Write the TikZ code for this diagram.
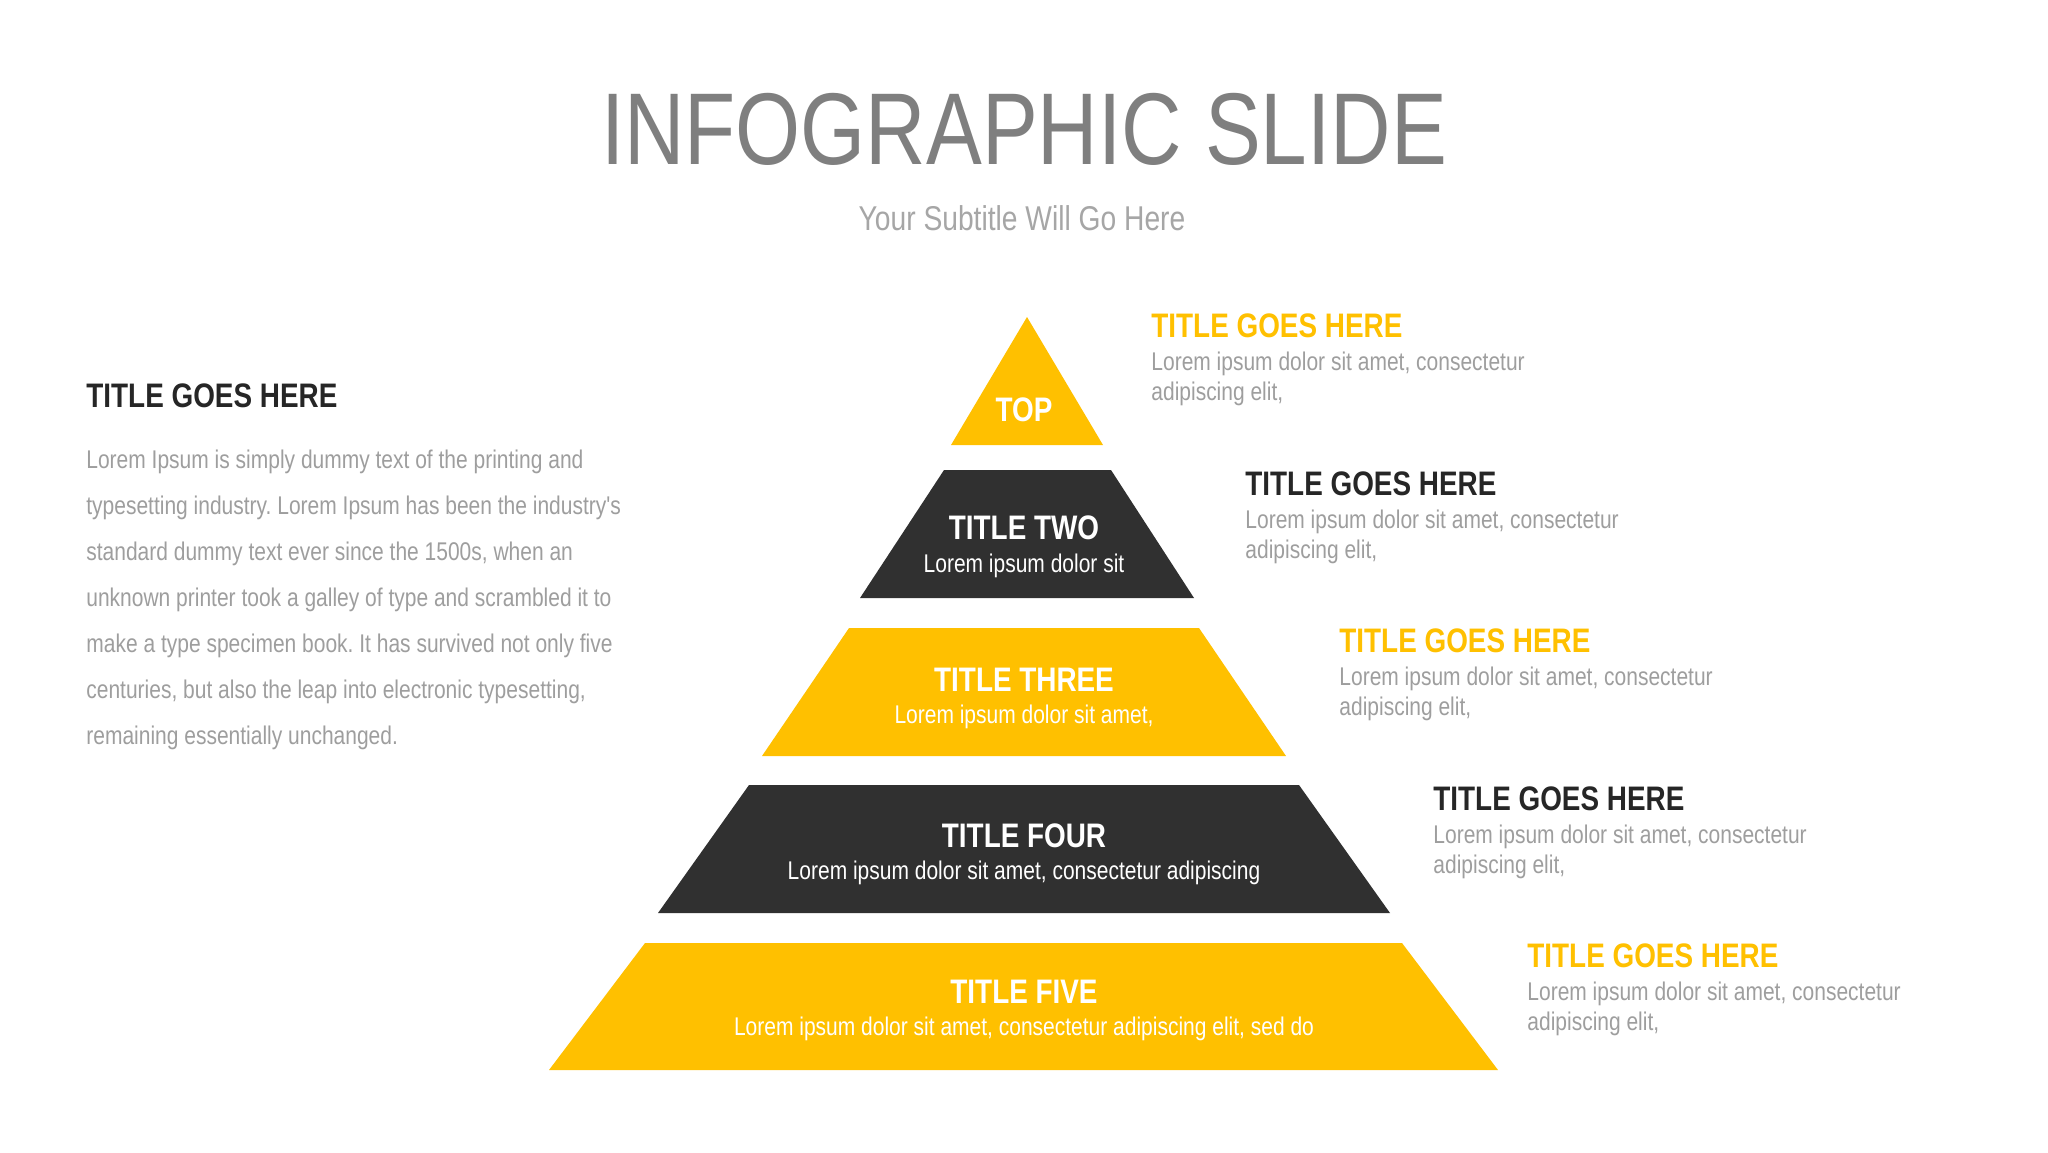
\documentclass[tikz,border=0pt]{standalone}
\usepackage{fontspec}
\setmainfont[FakeStretch=0.82]{Liberation Sans}
\newfontfamily\straightQuote[FakeStretch=0.82]{Liberation Sans}
\frenchspacing

\definecolor{gold}{HTML}{FFC000}
\definecolor{charcoal}{HTML}{303030}
\definecolor{headGray}{HTML}{7F7F7F}
\definecolor{subGray}{HTML}{A6A6A6}
\definecolor{bodyGray}{HTML}{9E9E9E}
\definecolor{inkDark}{HTML}{262626}

\tikzset{
  slideTitle/.style={inner sep=0, anchor=base, text=headGray, font=\fontsize{51}{60}\selectfont},
  slideSub/.style={inner sep=0, anchor=base, text=subGray, font=\fontsize{17.2}{20}\selectfont},
  headGold/.style={inner sep=0, anchor=base west, text=gold, font=\bfseries\fontsize{17}{20}\selectfont},
  headDark/.style={inner sep=0, anchor=base west, text=inkDark, font=\bfseries\fontsize{17}{20}\selectfont},
  bodyLine/.style={inner sep=0, anchor=base west, text=bodyGray, font=\fontsize{12.8}{15}\selectfont},
  sliceHead/.style={inner sep=0, anchor=base, text=white, font=\bfseries\fontsize{17}{20}\selectfont},
  sliceText/.style={inner sep=0, anchor=base, text=white, font=\fontsize{12.8}{15}\selectfont}
}

\begin{document}
\begin{tikzpicture}[x=0.5pt, y=-0.5pt]
\useasboundingbox (0,0) rectangle (2048,1152);
\fill[white] (0,0) rectangle (2048,1152);

%heading%
\node[slideTitle] (mainTitle) at (1024,164) {INFOGRAPHIC SLIDE};
\node[slideSub] (subTitle) at (1022,230) {Your Subtitle Will Go Here};

%left column%
\node[headDark] (leftTitle) at (86,407) {TITLE GOES HERE};
\node[bodyLine] (leftLineA) at (86,468) {Lorem Ipsum is simply dummy text of the printing and};
\node[bodyLine] (leftLineB) at (86,514) {typesetting industry. Lorem Ipsum has been the industry{\straightQuote'}s};
\node[bodyLine] (leftLineC) at (86,560) {standard dummy text ever since the 1500s, when an};
\node[bodyLine] (leftLineD) at (86,606) {unknown printer took a galley of type and scrambled it to};
\node[bodyLine] (leftLineE) at (86,652) {make a type specimen book. It has survived not only five};
\node[bodyLine] (leftLineF) at (86,698) {centuries, but also the leap into electronic typesetting,};
\node[bodyLine] (leftLineG) at (86,744) {remaining essentially unchanged.};

%pyramid%
\fill[gold] (1027,317) -- (1103,445) -- (951,445) -- cycle;
\fill[charcoal] (944,470) -- (1111,470) -- (1194,598) -- (860,598) -- cycle;
\fill[gold] (849,628) -- (1199,628) -- (1286,756) -- (762,756) -- cycle;
\fill[charcoal] (749,785) -- (1299,785) -- (1390,913) -- (658,913) -- cycle;
\fill[gold] (645,943) -- (1402,943) -- (1498,1070) -- (549,1070) -- cycle;

\node[sliceHead] (topHead) at (1024,421) {TOP};
\node[sliceHead] (twoHead) at (1024,539) {TITLE TWO};
\node[sliceText] (twoText) at (1024,572) {Lorem ipsum dolor sit};
\node[sliceHead] (threeHead) at (1024,691) {TITLE THREE};
\node[sliceText] (threeText) at (1024,723) {Lorem ipsum dolor sit amet,};
\node[sliceHead] (fourHead) at (1024,847) {TITLE FOUR};
\node[sliceText] (fourText) at (1024,879) {Lorem ipsum dolor sit amet, consectetur adipiscing};
\node[sliceHead] (fiveHead) at (1024,1003) {TITLE FIVE};
\node[sliceText] (fiveText) at (1024,1035) {Lorem ipsum dolor sit amet, consectetur adipiscing elit, sed do};

%right column%
\node[headGold] (oneNote) at (1151,337) {TITLE GOES HERE};
\node[bodyLine] (oneNoteA) at (1151,370) {Lorem ipsum dolor sit amet, consectetur};
\node[bodyLine] (oneNoteB) at (1151,400) {adipiscing elit,};

\node[headDark] (twoNote) at (1245,495) {TITLE GOES HERE};
\node[bodyLine] (twoNoteA) at (1245,528) {Lorem ipsum dolor sit amet, consectetur};
\node[bodyLine] (twoNoteB) at (1245,558) {adipiscing elit,};

\node[headGold] (threeNote) at (1339,652) {TITLE GOES HERE};
\node[bodyLine] (threeNoteA) at (1339,685) {Lorem ipsum dolor sit amet, consectetur};
\node[bodyLine] (threeNoteB) at (1339,715) {adipiscing elit,};

\node[headDark] (fourNote) at (1433,810) {TITLE GOES HERE};
\node[bodyLine] (fourNoteA) at (1433,843) {Lorem ipsum dolor sit amet, consectetur};
\node[bodyLine] (fourNoteB) at (1433,873) {adipiscing elit,};

\node[headGold] (fiveNote) at (1527,967) {TITLE GOES HERE};
\node[bodyLine] (fiveNoteA) at (1527,1000) {Lorem ipsum dolor sit amet, consectetur};
\node[bodyLine] (fiveNoteB) at (1527,1030) {adipiscing elit,};
\end{tikzpicture}
\end{document}
